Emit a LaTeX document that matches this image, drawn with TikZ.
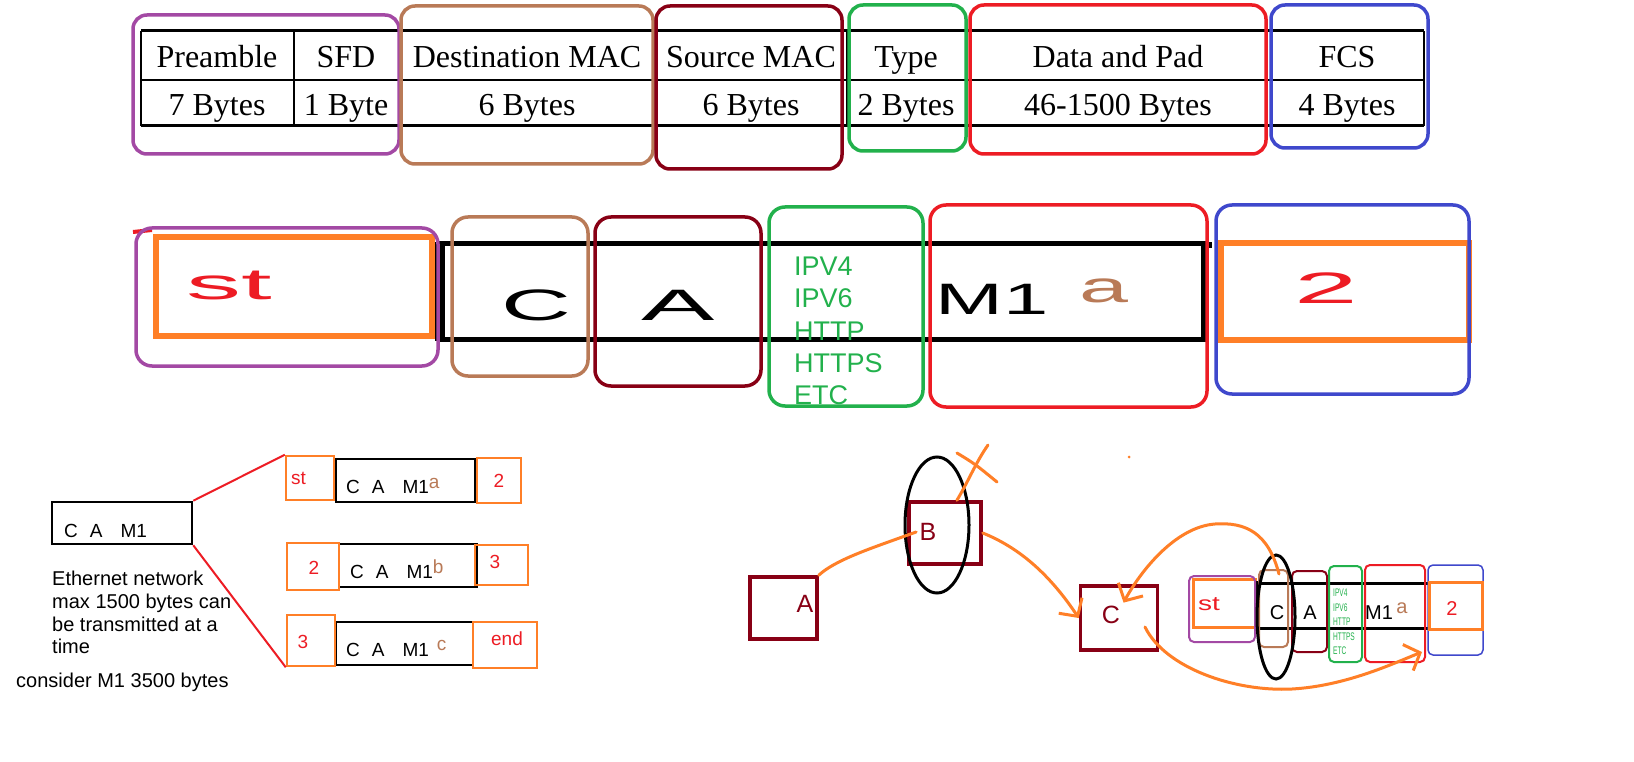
\documentclass[tikz,border=0pt]{standalone}
\usepackage{fontspec}
\setmainfont{Liberation Serif}
\setsansfont{Liberation Sans}
\usepackage{graphicx}
\usetikzlibrary{arrows.meta}

\definecolor{fpurple}{HTML}{A349A4}
\definecolor{fbrown}{HTML}{B97A57}
\definecolor{fdarkred}{HTML}{880015}
\definecolor{fgreen}{HTML}{22B14C}
\definecolor{fred}{HTML}{ED1C24}
\definecolor{fblue}{HTML}{3F48CC}
\definecolor{forange}{HTML}{FF7F27}

\begin{document}
\begin{tikzpicture}[x=1pt, y=-1pt,
    cell/.style={font=\fontsize{32}{32}\selectfont, inner sep=0pt, anchor=base},
    field/.style={rounded corners=14pt, line width=3.5pt},
    wide/.style={font=\sffamily\fontsize{44}{44}\selectfont, inner sep=0pt, anchor=base},
    proto/.style={font=\sffamily\fontsize{27}{27}\selectfont, text=fgreen, inner sep=0pt, anchor=base west},
    note/.style={font=\sffamily\fontsize{19}{19}\selectfont, inner sep=0pt, anchor=base west},
    tag/.style={font=\sffamily\fontsize{19}{19}\selectfont, text=fred, inner sep=0pt, anchor=base},
    frag/.style={draw=black, line width=2.5pt, inner sep=0pt},
    part/.style={draw=forange, line width=2.5pt, inner sep=0pt},
    router/.style={draw=fdarkred, line width=3.5pt, inner sep=0pt},
    routertext/.style={font=\sffamily\fontsize{25}{25}\selectfont, text=fdarkred},
    mini/.style={rounded corners=5pt, line width=2pt},
    minitext/.style={font=\sffamily\fontsize{20}{20}\selectfont, inner sep=0pt, anchor=base},
    hop/.style={draw=forange, line width=3pt, line cap=round},
    barb/.style={-{Straight Barb[length=13pt, width=28pt]}}
]
    \fill[white] (0,0) rectangle (1634,762);
    \useasboundingbox (0,0) rectangle (1634,762);

    % Frame format table
    \draw[line width=3pt] (141,31) -- (1424,31);
    \draw[line width=2pt] (141,80) -- (1424,80);
    \draw[line width=3pt] (141,126) -- (1424,126);
    \foreach \x in {141,294,399,656,847,966,1271,1424}
        \draw[line width=1.5pt] (\x,31) -- (\x,126);
    \foreach \x/\top/\bot [count=\i] in {217/Preamble/7 Bytes, 346/SFD/1 Byte,
            527/Destination MAC/6 Bytes, 751/Source MAC/6 Bytes, 906/Type/2 Bytes,
            1118/Data and Pad/46-1500 Bytes, 1347/FCS/4 Bytes} {
        \node[cell] (head\i) at (\x,68) {\top};
        \node[cell] (size\i) at (\x,116) {\bot};
    }
    \foreach \c/\xa/\ya/\xb/\yb in {fpurple/133/15/399/154, fbrown/401/6/653/164,
            fdarkred/656/6/842/169, fgreen/849/5/966/151, fred/970/5/1266/154,
            fblue/1271/5/1428/148}
        \draw[field, draw=\c] (\xa,\ya) rectangle (\xb,\yb);

    % Sketched frame
    \draw[fred, line width=4pt] (133,232) -- (152,230);
    \draw[line width=5pt] (440,244) rectangle (1203,339);
    \draw[line width=6pt] (1203,245) -- (1212,245);
    \draw[line width=10pt] (440,242) -- (440,341);
    \draw[forange, line width=6pt] (156,237) rectangle (432,336);
    \draw[forange, line width=6pt] (1221,243) rectangle (1469,340);
    \foreach \c/\xa/\ya/\xb/\yb in {fpurple/136/228/438/366, fbrown/452/217/588/376,
            fdarkred/595/217/761/386, fgreen/769/207/923/406, fred/930/205/1207/407,
            fblue/1216/205/1469/394}
        \draw[field, rounded corners=16pt, draw=\c] (\xa,\ya) rectangle (\xb,\yb);
    \node[wide, text=fred] (bigst) at (229,300) {\scalebox{2.5}[1]{st}};
    \node[wide] (bigC) at (536,320) {\scalebox{2.2}[1]{C}};
    \node[wide] (bigA) at (678,320) {\scalebox{2.5}[1]{A}};
    \node[wide] (bigM) at (992,315) {\scalebox{1.85}[1]{M1}};
    \node[wide, text=fbrown] (biga) at (1104,302) {\scalebox{2}[1]{a}};
    \node[wide, text=fred] (big2) at (1326,303) {\scalebox{2.6}[1]{2}};
    \foreach \t [count=\i] in {IPV4,IPV6,HTTP,HTTPS,ETC}
        \node[proto] (proto\i) at (794,244+32*\i) {\t};

    % Fragmenting M1
    \node[frag, minimum width=140pt, minimum height=42pt] (msg) at (122,523) {};
    \node[note] (msgtext) at (64,537) {C\hspace{12pt}A\hspace{18pt}M1};
    \node[frag, minimum width=139pt, minimum height=43pt] (m1) at (405.5,480.5) {};
    \node[frag, minimum width=138pt, minimum height=43pt] (m2) at (408,565.5) {};
    \node[frag, minimum width=137pt, minimum height=43pt] (m3) at (404.5,643.5) {};
    \node[part, minimum width=48pt, minimum height=44pt] (st1) at (310,478) {};
    \node[part, minimum width=44pt, minimum height=45pt] (end1) at (499,480.5) {};
    \node[part, minimum width=52pt, minimum height=47pt] (st2) at (313,566.5) {};
    \node[part, minimum width=53pt, minimum height=40pt] (end2) at (501.5,565) {};
    \node[part, minimum width=48pt, minimum height=51pt] (st3) at (311,640.5) {};
    \node[part, minimum width=64pt, minimum height=46pt] (end3) at (505,645) {};
    \node[note] (text1) at (346,493) {C\hspace{12pt}A\hspace{18pt}M1\raisebox{5pt}{\color{fbrown}a}};
    \node[note] (text2) at (350,578) {C\hspace{12pt}A\hspace{18pt}M1\raisebox{4.5pt}{\color{fbrown}b}};
    \node[note] (text3) at (346,656) {C\hspace{12pt}A\hspace{18pt}M1\hspace{8pt}\raisebox{6pt}{\color{fbrown}c}};
    \node[tag, anchor=base west] (tag1) at (291,484) {st};
    \node[tag] (tag2) at (499,487) {2};
    \node[tag] (tag3) at (314,574) {2};
    \node[tag] (tag4) at (495,568) {3};
    \node[tag] (tag5) at (303,648) {3};
    \node[tag] (tag6) at (507,645) {end};
    \draw[fred, line width=2pt] (msg.north east) -- (st1.north west);
    \draw[fred, line width=2pt] (msg.south east) -- (st3.south west);
    \node[note, font=\sffamily\fontsize{20}{22.7}\selectfont, align=left, anchor=north west]
        (limit) at (52,571) {Ethernet network\\max 1500 bytes can\\be transmitted at a\\time};
    \node[note, font=\sffamily\fontsize{20}{20}\selectfont] (msgsize) at (16,687) {consider M1 3500 bytes};

    % Routers
    \node[router, minimum width=67pt, minimum height=62pt] (boxA) at (783.5,608) {};
    \node[router, minimum width=72pt, minimum height=62pt] (boxB) at (945,533) {};
    \node[router, minimum width=77pt, minimum height=64pt] (boxC) at (1119,618) {};
    \node[routertext] (labA) at (805,604) {A};
    \node[routertext] (labB) at (928,532) {B};
    \node[routertext] (labC) at (1111,615) {C};
    \draw[line width=3pt] (937,525) ellipse [x radius=32pt, y radius=68pt];
    \fill[forange] (1129,457) circle (1.5pt);

    % Mini frame
    \draw[forange, line width=3pt] (1193,579) rectangle (1255,627);
    \draw[line width=3pt] (1255,583) -- (1428,583);
    \draw[line width=3pt] (1255,628) -- (1428,628);
    \draw[line width=5pt] (1256,581) -- (1256,630);
    \foreach \c/\xa/\ya/\xb/\yb in {fpurple/1189/576/1255/642, fbrown/1259/570/1288/647,
            fdarkred/1292/571/1327/652, fgreen/1329/566/1362/662, fred/1365/565/1425/662}
        \draw[mini, draw=\c] (\xa,\ya) rectangle (\xb,\yb);
    \draw[mini, draw=fblue, line width=1.5pt] (1428,565) rectangle (1483,655);
    \draw[forange, line width=3pt] (1429,582) rectangle (1482,629);
    \draw[line width=3pt] (1276,617) ellipse [x radius=19pt, y radius=62pt];
    \node[minitext, text=fred] (sst) at (1209,610) {\scalebox{1.4}[1]{st}};
    \node[minitext] (sC) at (1277,619) {C};
    \node[minitext] (sA) at (1310,619) {A};
    \node[minitext] (sM) at (1379,619) {M1};
    \node[minitext, text=fbrown] (sa) at (1402,613) {a};
    \node[minitext, text=fred] (s2) at (1452,615) {2};
    \foreach \t [count=\i] in {IPV4,IPV6,HTTP,HTTPS,ETC}
        \node[font=\sffamily\fontsize{11}{11}\selectfont, text=fgreen, inner sep=0pt, anchor=base west]
            (sp\i) at (1333,582+14.5*\i) {\scalebox{0.6}[1]{\t}};

    % Paths
    \coordinate (xTop) at (988,445);
    \coordinate (sCtop) at (1279,574);
    \coordinate (cOut) at (1145,627);
    \coordinate (sData) at (1422,652);
    \draw[hop] (boxA.north east) .. controls (835,560) and (872,548) .. (905,536) -- (labB.west);
    \draw[hop] (boxB.70) .. controls (968,482) and (976,462) .. (xTop);
    \draw[hop] (957,453) .. controls (975,464) .. (997,482);
    \draw[hop, barb] (boxB.east) .. controls (1020,548) and (1050,575) .. (boxC.west);
    \draw[hop, barb] (sCtop) .. controls (1268,532) and (1245,522) .. (1215,524)
        .. controls (1175,527) and (1140,572) .. (labC.north east);
    \draw[hop, barb] (cOut) .. controls (1165,668) and (1235,692) .. (1292,689)
        .. controls (1345,686) and (1392,664) .. (sData);
\end{tikzpicture}
\end{document}
